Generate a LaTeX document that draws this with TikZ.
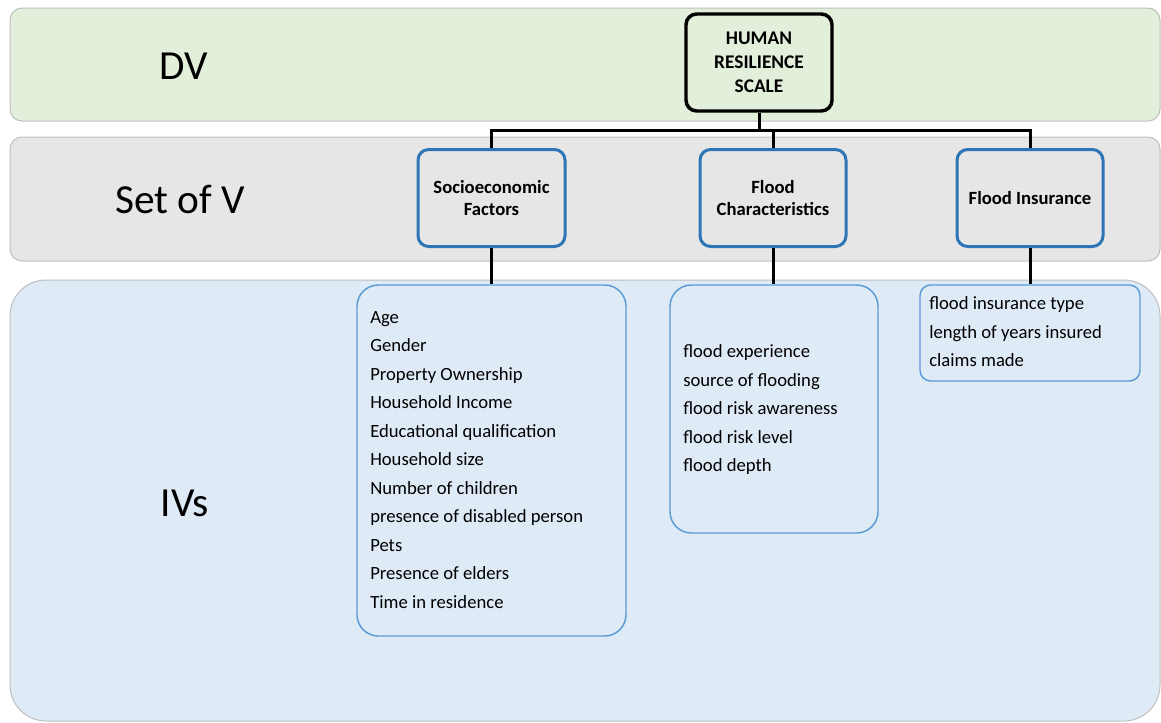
\documentclass[tikz,border=0pt]{standalone}
\usepackage{fontspec}
\setmainfont{Carlito}
\usetikzlibrary{fit}
\definecolor{bandgreen}{HTML}{E2EFDA}
\definecolor{bandgray}{HTML}{E6E6E6}
\definecolor{bandblue}{HTML}{DEEAF6}
\definecolor{bandline}{HTML}{BFBFBF}
\definecolor{boxblue}{HTML}{2E75B6}
\definecolor{listblue}{HTML}{5B9BD5}
\begin{document}
\begin{tikzpicture}[x=0.75pt,y=-0.75pt,
  band/.style={draw=bandline, line width=0.75pt, inner sep=0pt},
  biglabel/.style={font=\fontsize{31}{36}\selectfont, inner sep=0pt},
  varbox/.style={draw=boxblue, line width=2.25pt, fill=bandgray, rounded corners=8pt, inner sep=0pt,
    align=center, font=\fontsize{14}{16.5}\selectfont\bfseries},
  listbox/.style={draw=listblue, line width=1.1pt, fill=bandblue, inner sep=0pt},
  item/.style={anchor=base west, inner sep=0pt, font=\fontsize{14}{16}\selectfont},
  conn/.style={draw=black, line width=2.25pt}
]
\useasboundingbox (0,0) rectangle (1161,722);

% bands
\node[band, fill=bandgreen, rounded corners=9pt, fit={(10,8) (1160,121)}] (dvband) {};
\node[band, fill=bandgray, rounded corners=9pt, fit={(10,137) (1160,261)}] (vband) {};
\node[band, fill=bandblue, rounded corners=27pt, fit={(10,280) (1160,721)}] (ivband) {};

\node[biglabel] (dv) at (184,66) {DV};
\node[biglabel] (setv) at (180,199) {Set of V};
\node[biglabel] (ivs) at (185,503) {IVs};

% DV box
\node[draw=black, line width=2.6pt, fill=bandgreen, rounded corners=8pt, inner sep=0pt,
  align=center, font=\fontsize{14.5}{18}\selectfont\bfseries,
  minimum width=146*0.75pt, minimum height=97*0.75pt] (hrs) at (759,62.5)
  {HUMAN\\RESILIENCE\\SCALE};

% set of V boxes
\node[varbox, minimum width=147*0.75pt, minimum height=97*0.75pt] (soc) at (491.5,198) {Socioeconomic\\Factors};
\node[varbox, minimum width=146*0.75pt, minimum height=97*0.75pt] (fc) at (773,198) {Flood\\Characteristics};
\node[varbox, minimum width=146*0.75pt, minimum height=97*0.75pt] (fi) at (1030,198) {Flood Insurance};

% IV list boxes
\node[listbox, rounded corners=16pt, fit={(357,285) (626,636)}] (soclist) {};
\node[listbox, rounded corners=16pt, fit={(670,285) (878,533)}] (fclist) {};
\node[listbox, rounded corners=8pt, fit={(920,285) (1140,381)}] (filist) {};

% connectors
\coordinate (bus) at (0,130);
\draw[conn] (hrs.south) -- (hrs.south |- bus);
\draw[conn] (soc.north) -- (soc.north |- bus) -- (fi.north |- bus) -- (fi.north);
\draw[conn] (fc.north |- bus) -- (fc.north);
\draw[conn] (soc.south) -- (soclist.north);
\draw[conn] (fc.south) -- (fc.south |- fclist.north);
\draw[conn] (fi.south) -- (filist.north);

% list items
\foreach \t [count=\i from 0] in {Age,Gender,Property Ownership,Household Income,Educational qualification,Household size,Number of children,presence of disabled person,Pets,Presence of elders,Time in residence}
  \node[item] (s\i) at (370,323+28.5*\i) {\t};
\foreach \t [count=\i from 0] in {flood experience,source of flooding,flood risk awareness,flood risk level,flood depth}
  \node[item] (f\i) at (683,357.5+28.5*\i) {\t};
\foreach \t [count=\i from 0] in {flood insurance type,length of years insured,claims made}
  \node[item] (n\i) at (929,309.5+28.5*\i) {\t};
\end{tikzpicture}
\end{document}
